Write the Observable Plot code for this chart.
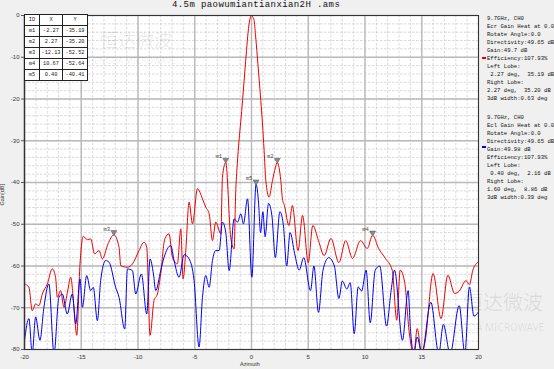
<!DOCTYPE html>
<html><head><meta charset="utf-8">
<script src="https://cdn.jsdelivr.net/npm/d3@7"></script>
<script src="https://cdn.jsdelivr.net/npm/@observablehq/plot@0.6"></script>
<style>
body{margin:0;background:#f0f0f0;}
#wrap{position:relative;width:554px;height:369px;overflow:hidden;background:#f0f0f0;font-family:"Liberation Mono","DejaVu Sans Mono",monospace;}
#chart{position:absolute;left:0;top:0;}
.t{position:absolute;white-space:pre;color:#111;line-height:1;}
.wm{position:absolute;white-space:pre;color:rgba(0,0,0,0.09);font-family:"Noto Sans CJK SC",sans-serif;line-height:1;pointer-events:none;}
table.mk{position:absolute;left:24px;top:14px;border-collapse:collapse;background:#fff;font-family:"Liberation Mono",monospace;font-size:5.3px;}
table.mk td{border:1px solid #222;height:10px;padding:0;text-align:center;color:#222;}
</style></head>
<body><div id="wrap"></div>
<script>
const title = "4.5m paowumiantianxian2H .ams";
const xTicks = [-20,-15,-10,-5,0,5,10,15,20];
const yTicks = [0,-10,-20,-30,-40,-50,-60,-70,-80];
const markerIds = ["m1","m2","m3","m4","m5"];
const markerX = [-2.27, 2.27, -12.13, 10.67, 0.40];
const markerY = [-35.19, -35.20, -52.52, -52.64, -40.41];
const markerXText = ["-2.27","2.27","-12.13","10.67","0.40"];
const markerYText = ["-35.19","-35.20","-52.52","-52.64","-40.41"];
const redPts = [[-20,-64.3],[-19.61,-65.1],[-19.32,-70.7],[-19.02,-69.1],[-18.73,-69.5],[-18.43,-66.7],[-17.99,-64.3],[-17.55,-60.7],[-17.26,-62.7],[-17.11,-67.5],[-16.82,-65.9],[-16.52,-69.9],[-16.2,-66],[-15.93,-62.7],[-15.64,-69.9],[-15.4,-76.6],[-15.11,-59.5],[-14.82,-52.9],[-14.46,-53.7],[-14.17,-53.5],[-13.82,-57.1],[-13.43,-56.3],[-13.14,-58.3],[-12.64,-54.7],[-12.13,-52.52],[-11.67,-55.5],[-11.52,-59.9],[-10.93,-60.3],[-10.49,-59.5],[-9.91,-56.3],[-9.47,-54.3],[-9.23,-55.5],[-8.94,-76.6],[-8.59,-68.3],[-8.29,-66.7],[-8.0,-61.9],[-7.64,-53.5],[-7.26,-52.3],[-6.97,-57.9],[-6.53,-59.5],[-6.23,-51.1],[-6.03,-63.1],[-5.79,-56.3],[-5.5,-44.7],[-5.2,-49.9],[-4.76,-41.5],[-4.32,-43.9],[-4.03,-45.9],[-3.73,-47.5],[-3.44,-53.9],[-3.15,-49.5],[-2.7,-52.3],[-2.56,-38.7],[-2.27,-35.19],[-1.83,-53.1],[-1.53,-55.9],[-1.4,-43],[-1.25,-35.5],[-1.1,-30],[-0.95,-25.5],[-0.79,-20.4],[-0.6,-13.8],[-0.44,-8.4],[-0.3,-4],[-0.15,-1],[0,0],[0.12,-0.4],[0.23,-1.2],[0.35,-4.5],[0.47,-8.4],[0.65,-14.5],[0.82,-20.4],[0.97,-26],[1.11,-32.3],[1.26,-39.5],[1.55,-43.5],[1.85,-39.5],[2.1,-36.5],[2.27,-35.2],[2.58,-39.5],[2.73,-44],[2.9,-45.5],[3.3,-50.3],[3.6,-45.5],[4.1,-56.3],[4.5,-47.9],[5.0,-59.2],[5.4,-50.3],[5.9,-53.9],[6.4,-57.5],[7.0,-53.4],[7.7,-59.2],[8.3,-53.9],[8.9,-58.2],[9.6,-53.9],[10.2,-55.8],[10.67,-52.64],[11.2,-55.8],[11.8,-58.2],[12.4,-61],[12.8,-73],[13.1,-61],[13.5,-64],[13.9,-76],[14.3,-81],[14.6,-75],[15.0,-81],[15.3,-78],[16.0,-61.8],[16.7,-72.6],[17.3,-62.2],[17.9,-66.6],[18.3,-66],[18.9,-63.5],[19.2,-64.5],[19.5,-61],[20,-59]];
const bluePts = [[-20,-77.8],[-19.61,-72.6],[-19.32,-81],[-19.02,-72.2],[-18.64,-77.8],[-18.29,-69.9],[-17.85,-64.3],[-17.4,-81],[-16.97,-67.5],[-16.67,-66.7],[-16.23,-71.5],[-15.79,-66.7],[-15.49,-73.9],[-15.11,-63.1],[-14.9,-69.9],[-14.52,-62.3],[-14.17,-65.9],[-13.94,-65.1],[-13.58,-73.1],[-13.29,-63.5],[-12.85,-58.7],[-12.55,-59.1],[-11.97,-65.1],[-11.67,-67.5],[-11.17,-75.1],[-10.93,-60.7],[-10.49,-61.1],[-10.2,-66.7],[-9.7,-61.9],[-9.23,-71.5],[-8.94,-58.3],[-8.64,-61.9],[-8.44,-65.9],[-8.0,-61.1],[-7.7,-57.9],[-7.12,-55.1],[-6.82,-58.7],[-6.38,-62.7],[-5.94,-57.3],[-5.5,-58.3],[-5.06,-63.5],[-4.62,-79.4],[-4.32,-67.5],[-4.03,-62.3],[-3.73,-65.1],[-3.44,-58.7],[-3.15,-56.3],[-2.85,-56.3],[-2.56,-49.5],[-2.27,-51.9],[-1.97,-61.1],[-1.53,-48.7],[-1.23,-49.5],[-0.94,-47.5],[-0.71,-49.9],[-0.35,-43.9],[0.03,-62.7],[0.4,-40.41],[0.6,-44],[0.8,-52],[1.0,-47],[1.2,-53],[1.5,-45],[1.8,-48],[2.1,-58],[2.5,-47],[2.8,-50],[3.1,-60],[3.4,-52],[3.8,-57],[4.2,-61],[4.6,-58],[5.2,-65.9],[5.5,-60],[5.9,-71.1],[6.3,-61],[6.8,-58],[7.3,-60],[7.7,-67.8],[8.0,-63.6],[8.4,-65.5],[8.7,-64],[9.05,-76.2],[9.4,-65],[9.7,-66],[10.1,-61],[10.46,-73.6],[10.9,-61],[11.3,-60],[11.9,-74.4],[12.3,-65.9],[12.6,-61],[13.3,-77.8],[13.8,-65.9],[14.0,-75],[14.3,-81],[14.6,-77],[15.0,-81],[15.8,-68.7],[16.5,-81],[16.9,-74],[17.5,-81],[18.3,-69.5],[18.8,-81],[19.2,-65],[19.6,-72],[20,-71]];
const panelRed = ["9.7GHz, CH0","Ecr Gain Heat at 0.0","Rotate Angle:0.0","Directivity:49.65 dB","Gain:49.7 dB","Efficiency:107.93%","Left Lobe:"," 2.27 deg,  35.19 dB","Right Lobe:","2.27 deg,  35.20 dB","3dB width:0.63 deg"];
const panelBlue = ["9.7GHz, CH0","Ecl Gain Heat at 0.0","Rotate Angle:0.0","Directivity:49.65 dB","Gain:49.98 dB","Efficiency:107.93%","Left Lobe:"," 0.40 deg,  2.16 dB","Right Lobe:","1.60 deg,  8.86 dB","3dB width:0.39 deg"];

const red = redPts.map(([x,y]) => ({x,y}));
const blue = bluePts.map(([x,y]) => ({x,y}));
const markers = markerIds.map((id,i) => ({id, x:markerX[i], y:markerY[i]}));
const minorX = d3.range(-20, 21, 1);
const minorY = d3.range(-80, 1, 2);

const wrap = document.getElementById("wrap");
function add(cls, txt, css){ const d=document.createElement("div"); d.className=cls; d.textContent=txt; Object.assign(d.style, css); wrap.appendChild(d); return d; }

const chart = Plot.plot({
  width: 554, height: 369,
  marginLeft: 24, marginRight: 76, marginTop: 15, marginBottom: 20,
  style: {background: "transparent", fontFamily: "Liberation Sans, Arial, sans-serif", fontSize: "6px", color: "#333"},
  x: {domain: [-20, 20]},
  y: {domain: [-80, 0]},
  marks: [
    Plot.frame({fill: "white", stroke: null}),
    Plot.ruleX(minorX, {stroke: "#c9c9c9", strokeWidth: 0.7, strokeDasharray: "2.5,1.5"}),
    Plot.ruleY(minorY, {stroke: "#c9c9c9", strokeWidth: 0.7, strokeDasharray: "2.5,1.5"}),
    Plot.ruleX(xTicks, {stroke: "#b9b9b9", strokeWidth: 1.4}),
    Plot.ruleY(yTicks, {stroke: "#b9b9b9", strokeWidth: 1.4}),
    Plot.line(red, {x: "x", y: "y", stroke: "#ee0000", strokeWidth: 1, curve: "monotone-x", clip: true}),
    Plot.line(blue, {x: "x", y: "y", stroke: "#0000ee", strokeWidth: 1, curve: "monotone-x", clip: true}),
    Plot.dot(markers, {x: "x", y: "y", symbol: "triangle", rotate: 180, r: 2.2, fill: "#8a8a8a", stroke: "#555", strokeWidth: 0.5, dy: -2.5}),
    Plot.text(markers, {x: "x", y: "y", text: "id", dx: -7, dy: -6, fontSize: 5.5, fill: "#444", fontFamily: "Liberation Mono, monospace"}),
    Plot.axisX({ticks: xTicks, tickFormat: d => String(d), tickSize: 0, tickPadding: 5, label: null, fontSize: 6, fill: "#333"}),
    Plot.axisY({ticks: yTicks, tickFormat: d => String(d), tickSize: 3, tickPadding: 2, label: null, fontSize: 6, fill: "#333", stroke: "#555"}),
    Plot.ruleX([-20], {stroke: "#555", strokeWidth: 1.5}),
    Plot.frame({stroke: "#333", strokeWidth: 1})
  ]
});
chart.id = "chart";
wrap.appendChild(chart);

// watermark text
add("wm", "恒达微波", {left: "100px", top: "30px", fontSize: "18px"});
add("wm", "HENGDA MICROWAVE", {left: "88px", top: "57px", fontSize: "8.5px", fontFamily: "Noto Sans, sans-serif"});
add("wm", "恒达微波", {left: "463px", top: "292px", fontSize: "20px"});
add("wm", "HENGDA MICROWAVE", {left: "441px", top: "322px", fontSize: "10px", fontFamily: "Noto Sans, sans-serif"});

// title and axis labels
add("t", title, {left: "172px", top: "1px", fontSize: "9px", letterSpacing: "0.4px"});
add("t", "Azimuth", {left: "240px", top: "362px", fontSize: "5.5px", fontFamily: "Liberation Sans, sans-serif", color: "#333"});
add("t", "Gain[dB]", {left: "-8px", top: "192px", fontSize: "5.5px", fontFamily: "Liberation Sans, sans-serif", color: "#333", transform: "rotate(-90deg)"});

// marker table
const tbl = document.createElement("table"); tbl.className = "mk";
const colW = [14, 22, 24];
const rows = [["ID","X","Y"]].concat(markerIds.map((id,i) => [id, markerXText[i], markerYText[i]]));
rows.forEach(r => { const tr = document.createElement("tr"); r.forEach((c,j) => { const td = document.createElement("td"); td.textContent = c; td.style.width = colW[j] + "px"; tr.appendChild(td); }); tbl.appendChild(tr); });
wrap.appendChild(tbl);

// side panel
panelRed.forEach((s,i) => add("t", s, {left: "487px", top: (16 + i*8) + "px", fontSize: "5.6px"}));
panelBlue.forEach((s,i) => add("t", s, {left: "487px", top: (115 + i*8) + "px", fontSize: "5.6px"}));
add("t", "", {left: "482px", top: "57px", width: "4px", height: "1.5px", background: "#ee0000"});
add("t", "", {left: "482px", top: "146px", width: "4px", height: "1.5px", background: "#0000ee"});
</script></body></html>
